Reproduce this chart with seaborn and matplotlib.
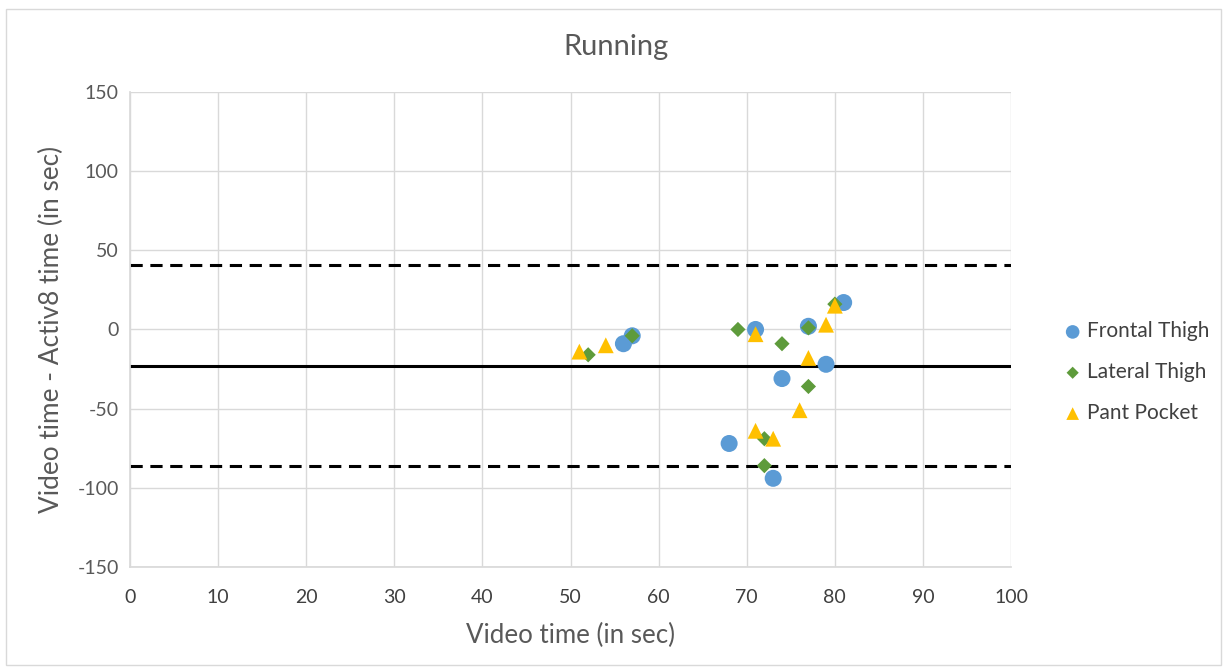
import numpy as np
import pandas as pd
import matplotlib
matplotlib.use("Agg")
import matplotlib.pyplot as plt
import seaborn as sns
from matplotlib.patches import Rectangle

# Bland-Altman style data: video time vs. difference (video - Activ8), seconds
frontal_x = [56, 57, 68, 71, 73, 74, 77, 79, 81]
frontal_y = [-9, -4, -72, 0, -94, -31, 2, -22, 17]

lateral_x = [52, 57, 69, 72, 72, 74, 77, 77, 80]
lateral_y = [-16, -4, 0, -69, -86, -9, 1, -36, 16]

pocket_x = [51, 54, 71, 71, 73, 76, 77, 79, 80]
pocket_y = [-14, -10, -3, -64, -69, -51, -18, 3, 15]

series_names = ["Frontal Thigh", "Lateral Thigh", "Pant Pocket"]

mean_diff = -23
upper_loa = 40.5
lower_loa = -86.5

sns.set_theme(style="white")
plt.rcParams["font.family"] = ["Lato", "DejaVu Sans"]
plt.rcParams["axes.unicode_minus"] = False

fig = plt.figure(figsize=(12.27, 6.71), dpi=100)
ax = fig.add_axes([0.106, 0.155, 0.718, 0.708])

grey_text = "#595959"
dark_text = "#404040"
grid_col = "#D9D9D9"

frames = [
    pd.DataFrame({"x": frontal_x, "y": frontal_y}),
    pd.DataFrame({"x": lateral_x, "y": lateral_y}),
    pd.DataFrame({"x": pocket_x, "y": pocket_y}),
]
styles = [
    dict(marker="o", s=150, color="#5B9BD5"),
    dict(marker="D", s=60, color="#5E9B3B"),
    dict(marker="^", s=130, color="#FFC000"),
]
for name, df, st in zip(series_names, frames, styles):
    sns.scatterplot(data=df, x="x", y="y", ax=ax, label=name,
                    edgecolor="none", linewidth=0, zorder=3, **st)

ax.axhline(mean_diff, color="black", lw=2.2, zorder=2)
ax.axhline(upper_loa, color="black", lw=2.2, ls=(0, (4, 2.5)), zorder=2)
ax.axhline(lower_loa, color="black", lw=2.2, ls=(0, (4, 2.5)), zorder=2)

ax.set_xlim(0, 100)
ax.set_ylim(-150, 150)
ax.set_xticks(np.arange(0, 101, 10))
ax.set_yticks(np.arange(-150, 151, 50))
ax.grid(True, color=grid_col, lw=1)
ax.set_axisbelow(True)
for side in ["top", "right"]:
    ax.spines[side].set_visible(False)
ax.spines["left"].set_color(grid_col)
ax.spines["bottom"].set_color(grid_col)
ax.tick_params(axis="both", labelsize=14, length=0)
ax.tick_params(axis="x", colors=dark_text, pad=16)
ax.tick_params(axis="y", colors=grey_text, pad=8)

ax.set_xlabel("Video time (in sec)", fontsize=18.6, color=grey_text, labelpad=12)
ax.set_ylabel("Video time - Activ8 time (in sec)", fontsize=18.8, color=grey_text, labelpad=10)
fig.text(0.502, 0.93, "Running", fontsize=21, color=grey_text, ha="center", va="center")

leg = ax.legend(loc="center left", bbox_to_anchor=(1.025, 0.41), frameon=False,
                fontsize=15, labelspacing=1.0, handletextpad=-0.3,
                markerscale=0.8, labelcolor=dark_text)

fig.patches.append(Rectangle((0.005, 0.009), 0.99, 0.978, transform=fig.transFigure,
                             fill=False, edgecolor=grid_col, lw=1))

fig.savefig("out.png", dpi=100)
